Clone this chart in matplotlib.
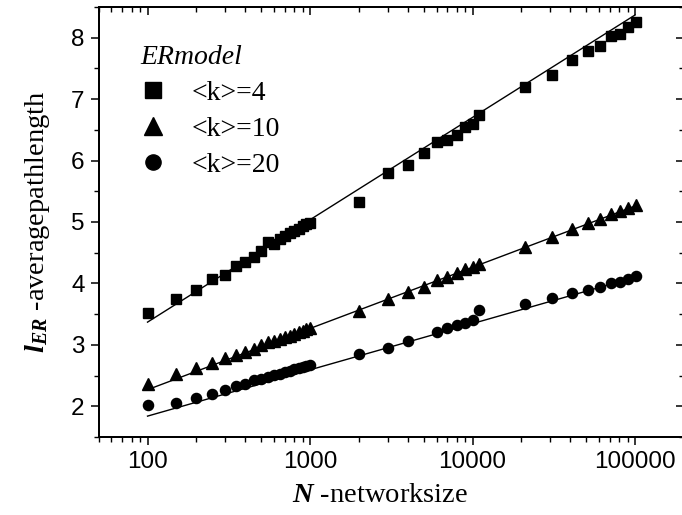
import matplotlib
matplotlib.use("Agg")
import matplotlib.pyplot as plt
from matplotlib.ticker import FixedLocator, FuncFormatter, MultipleLocator, LogLocator, NullFormatter
import numpy as np

plt.rcParams['mathtext.fontset'] = 'custom'
plt.rcParams['mathtext.rm'] = 'Liberation Serif'
plt.rcParams['mathtext.it'] = 'Liberation Serif:italic'
plt.rcParams['mathtext.bf'] = 'Liberation Serif:bold'
plt.rcParams['mathtext.bfit'] = 'Liberation Serif:italic:bold'

# ---- data ----
N_sq = [100, 150, 200, 250, 300, 350, 400, 450, 500, 550, 600, 650, 700, 750, 800, 850, 900, 950, 1000,
        2000, 3000, 4000, 5000, 6000, 7000, 8000, 9000, 10000, 11000,
        21000, 31000, 41000, 51000, 61000, 71000, 81000, 91000, 101000]
l_k4 = [3.52, 3.75, 3.89, 4.07, 4.13, 4.28, 4.35, 4.43, 4.52, 4.67, 4.64, 4.73, 4.77, 4.82, 4.86, 4.89, 4.93, 4.96, 4.99,
        5.33, 5.79, 5.93, 6.12, 6.31, 6.33, 6.42, 6.54, 6.60, 6.75,
        7.20, 7.40, 7.64, 7.79, 7.86, 8.02, 8.06, 8.18, 8.25]

N_tri = [100, 150, 200, 250, 300, 350, 400, 450, 500, 550, 600, 650, 700, 750, 800, 850, 900, 950, 1000,
         2000, 3000, 4000, 5000, 6000, 7000, 8000, 9000, 10000, 11000,
         21000, 31000, 41000, 51000, 61000, 71000, 81000, 91000, 101000]
l_k10 = [2.36, 2.53, 2.63, 2.71, 2.79, 2.84, 2.88, 2.94, 3.00, 3.04, 3.07, 3.10, 3.13, 3.15, 3.18, 3.21, 3.23, 3.26, 3.28,
         3.55, 3.74, 3.86, 3.95, 4.06, 4.10, 4.17, 4.24, 4.27, 4.32,
         4.59, 4.76, 4.88, 4.98, 5.05, 5.13, 5.18, 5.23, 5.28]

N_cir = [100, 150, 200, 250, 300, 350, 400, 450, 500, 550, 600, 650, 700, 750, 800, 850, 900, 950, 1000,
         2000, 3000, 4000, 6000, 7000, 8000, 9000, 10000, 11000,
         21000, 31000, 41000, 51000, 61000, 71000, 81000, 91000, 101000]
l_k20 = [2.02, 2.06, 2.14, 2.20, 2.26, 2.33, 2.37, 2.42, 2.45, 2.48, 2.51, 2.53, 2.56, 2.58, 2.60, 2.62, 2.64, 2.66, 2.68,
         2.85, 2.95, 3.06, 3.21, 3.27, 3.32, 3.36, 3.40, 3.57,
         3.66, 3.76, 3.84, 3.90, 3.95, 4.00, 4.03, 4.08, 4.12]

fit_N = [100, 100000]
fit_k4 = [3.37, 8.37]
fit_k10 = [2.27, 5.26]
fit_k20 = [1.84, 4.10]

labels = ['<k>=4', '<k>=10', '<k>=20']
x_ticks = [100, 1000, 10000, 100000]
y_ticks = [2, 3, 4, 5, 6, 7, 8]

# ---- figure ----
W, H = 682, 515
fig = plt.figure(figsize=(W / 100, H / 100), dpi=100)
left_px, right_px, top_px, bot_px = 98.6, 684.0, 7.0, 437.0
ax = fig.add_axes([left_px / W, (H - bot_px) / H, (right_px - left_px) / W, (bot_px - top_px) / H])

ax.set_xscale('log')
ax.set_xlim(50, 200000)
ax.set_ylim(1.5, 8.5)

ms = dict(color='black', linestyle='none')
ax.plot(N_sq, l_k4, marker='s', markersize=7.3, label=labels[0], **ms)
ax.plot(N_tri, l_k10, marker='^', markersize=8.3, label=labels[1], **ms)
ax.plot(N_cir, l_k20, marker='o', markersize=7.3, label=labels[2], **ms)
for fy in (fit_k4, fit_k10, fit_k20):
    ax.plot(fit_N, fy, color='black', linewidth=1.0)

# ticks
ax.xaxis.set_major_locator(FixedLocator(x_ticks))
ax.xaxis.set_minor_locator(LogLocator(base=10, subs=np.arange(2, 10), numticks=20))
ax.xaxis.set_major_formatter(FuncFormatter(lambda v, p: f"{int(round(v))}"))
ax.xaxis.set_minor_formatter(NullFormatter())
ax.yaxis.set_major_locator(FixedLocator(y_ticks))
ax.yaxis.set_minor_locator(MultipleLocator(0.5))
ax.yaxis.set_major_formatter(FuncFormatter(lambda v, p: f"{int(round(v))}"))

tick_font = 'Liberation Sans'
ax.tick_params(which='major', direction='out', length=6, width=1.1, labelsize=17.5, pad=4)
ax.tick_params(which='minor', direction='out', length=3.5, width=1.0)
for lab in ax.get_xticklabels() + ax.get_yticklabels():
    lab.set_fontfamily(tick_font)

for s in ax.spines.values():
    s.set_linewidth(1.2)

# top / right inward ticks via twin axes
axt = ax.twiny()
axt.set_xscale('log')
axt.set_xlim(ax.get_xlim())
axt.xaxis.set_major_locator(FixedLocator(x_ticks))
axt.xaxis.set_minor_locator(LogLocator(base=10, subs=np.arange(2, 10), numticks=20))
axt.xaxis.set_major_formatter(NullFormatter())
axt.xaxis.set_minor_formatter(NullFormatter())
axt.tick_params(which='major', direction='in', length=6, width=1.1)
axt.tick_params(which='minor', direction='in', length=3.5, width=1.0)
axt.yaxis.set_visible(False)

axr = ax.twinx()
axr.set_ylim(ax.get_ylim())
axr.yaxis.set_major_locator(FixedLocator(y_ticks))
axr.yaxis.set_minor_locator(MultipleLocator(0.5))
axr.yaxis.set_major_formatter(NullFormatter())
axr.tick_params(which='major', direction='in', length=6, width=1.1)
axr.tick_params(which='minor', direction='in', length=3.5, width=1.0)
axr.xaxis.set_visible(False)
for a in (axt, axr):
    for s in a.spines.values():
        s.set_linewidth(1.2)

# labels
ax.set_xlabel(r'$\mathbfit{N}$ -networksize', fontfamily='Liberation Serif', fontsize=20.5)
ax.xaxis.set_label_coords(0.481, -0.108)
ax.set_ylabel(r'$\mathbfit{l}_{\mathbfit{ER}}$ -averagepathlength', fontfamily='Liberation Serif', fontsize=20.5, labelpad=14)

leg = ax.legend(loc='upper left', bbox_to_anchor=((129 - left_px) / (right_px - left_px), (bot_px - 34) / (bot_px - top_px)),
                frameon=False, prop={'family': 'Liberation Serif', 'size': 20},
                title='ERmodel', title_fontproperties={'family': 'Liberation Serif', 'size': 20, 'style': 'italic'},
                alignment='left', markerscale=1.5, handlelength=0.9, handletextpad=0.95,
                labelspacing=0.38, borderaxespad=0.0)
leg.set_zorder(10)
ax.set_zorder(axt.get_zorder() + 1)
ax.patch.set_visible(False)

fig.savefig('out.png', dpi=100)
